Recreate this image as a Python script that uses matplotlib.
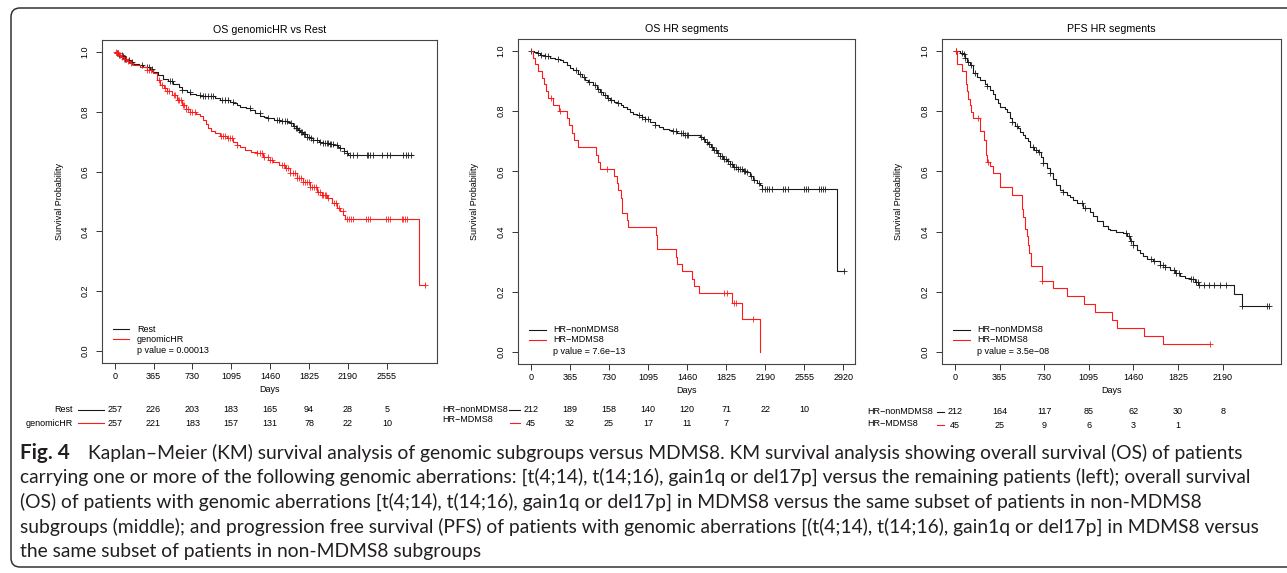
import numpy as np
import matplotlib
matplotlib.use("Agg")
import matplotlib.pyplot as plt
from matplotlib.lines import Line2D
from matplotlib.patches import FancyBboxPatch
from matplotlib.transforms import IdentityTransform, blended_transform_factory

plt.rcParams["font.family"] = ["Liberation Sans", "DejaVu Sans"]

W, H = 1287, 573

# ---- OS genomicHR vs Rest
rest_t = [0, 20, 45, 70, 95, 120, 150, 175, 230, 269, 330, 363, 410, 457, 500, 551, 600, 629, 680, 708,
          760, 802, 940, 989, 1080, 1115, 1150, 1177, 1230, 1271, 1320, 1365, 1400, 1428, 1500, 1553, 1620,
          1647, 1678, 1700, 1720, 1741, 1770, 1803, 1840, 1866, 1920, 1960, 2020, 2054, 2100, 2117, 2150,
          2179, 2195, 2800]
rest_s = [1.0, 0.995, 0.99, 0.985, 0.978, 0.972, 0.966, 0.961, 0.955, 0.95, 0.942, 0.933, 0.922, 0.911,
          0.902, 0.894, 0.884, 0.874, 0.867, 0.861, 0.856, 0.852, 0.846, 0.839, 0.834, 0.83, 0.823, 0.817,
          0.811, 0.806, 0.796, 0.786, 0.782, 0.778, 0.774, 0.77, 0.766, 0.763, 0.752, 0.745, 0.739, 0.733,
          0.725, 0.717, 0.711, 0.706, 0.7, 0.694, 0.691, 0.689, 0.683, 0.678, 0.67, 0.663, 0.654, 0.654]
rest_cens = [20, 30, 45, 66, 80, 95, 110, 130, 160, 253, 300, 320, 347, 519, 540, 629, 707, 801, 825, 850,
             875, 900, 924, 1005, 1035, 1067, 1114, 1270, 1364, 1440, 1521, 1545, 1570, 1595, 1615, 1660,
             1680, 1700, 1715, 1730, 1745, 1760, 1775, 1790, 1805, 1820, 1840, 1866, 1900, 1930, 1960, 1975,
             1990, 2005, 2020, 2035, 2050, 2090, 2120, 2150, 2180, 2209, 2240, 2272, 2366, 2381, 2397, 2428,
             2507, 2554, 2585, 2710, 2735, 2757, 2779]

ghr_t = [0, 20, 40, 60, 85, 113, 140, 175, 238, 300, 363, 395, 425, 460, 488, 535, 582, 629, 670, 707,
         760, 802, 832, 860, 880, 905, 942, 989, 1052, 1115, 1150, 1177, 1224, 1280, 1333, 1390, 1443, 1490,
         1540, 1599, 1650, 1709, 1770, 1834, 1900, 1950, 1990, 2040, 2084, 2120, 2147, 2162, 2860, 2914]
ghr_s = [1.0, 0.995, 0.99, 0.983, 0.977, 0.97, 0.963, 0.956, 0.95, 0.94, 0.928, 0.905, 0.889, 0.878,
         0.868, 0.855, 0.839, 0.822, 0.81, 0.8, 0.792, 0.785, 0.772, 0.76, 0.745, 0.735, 0.728, 0.72, 0.711,
         0.7, 0.69, 0.683, 0.672, 0.666, 0.661, 0.65, 0.639, 0.633, 0.622, 0.611, 0.594, 0.578, 0.564, 0.55,
         0.533, 0.522, 0.511, 0.494, 0.478, 0.467, 0.456, 0.442, 0.222, 0.222]
ghr_cens = [10, 25, 35, 50, 70, 90, 105, 125, 150, 300, 320, 340, 420, 440, 470, 490, 510, 555, 570, 590,
            605, 620, 640, 655, 670, 690, 710, 730, 750, 1000, 1020, 1040, 1060, 1080, 1100, 1150, 1340,
            1360, 1380, 1400, 1440, 1460, 1480, 1570, 1590, 1610, 1630, 1650, 1670, 1690, 1710, 1730, 1750,
            1770, 1790, 1805, 1820, 1835, 1850, 1870, 1890, 1910, 1930, 1950, 1960, 1970, 1985, 2000, 2060,
            2080, 2110, 2140, 2180, 2200, 2220, 2240, 2360, 2380, 2397, 2545, 2565, 2585, 2695, 2710, 2725,
            2742, 2914]

# ---- OS HR segments
osn_t = [0, 30, 60, 90, 130, 181, 230, 274, 300, 336, 370, 398, 440, 476, 510, 538, 580, 616, 650, 679,
         710, 741, 780, 803, 840, 865, 900, 928, 960, 990, 1037, 1068, 1114, 1161, 1200, 1239, 1290, 1317,
         1363, 1426, 1582, 1610, 1628, 1660, 1680, 1706, 1740, 1770, 1799, 1830, 1860, 1893, 1940, 1980,
         2018, 2050, 2080, 2110, 2142, 2158, 2864, 2927]
osn_s = [1.0, 0.996, 0.993, 0.987, 0.983, 0.978, 0.973, 0.969, 0.962, 0.952, 0.944, 0.936, 0.925, 0.914,
         0.904, 0.897, 0.886, 0.874, 0.864, 0.853, 0.845, 0.836, 0.83, 0.827, 0.82, 0.814, 0.806, 0.797,
         0.79, 0.786, 0.781, 0.775, 0.764, 0.753, 0.747, 0.742, 0.737, 0.734, 0.729, 0.72, 0.716, 0.709,
         0.698, 0.69, 0.68, 0.67, 0.66, 0.651, 0.642, 0.633, 0.624, 0.615, 0.607, 0.602, 0.598, 0.585,
         0.57, 0.562, 0.554, 0.54, 0.268, 0.268]
osn_cens = [5, 70, 100, 130, 160, 258, 420, 460, 500, 540, 600, 630, 660, 690, 720, 750, 816, 1010, 1040,
            1070, 1100, 1161, 1330, 1360, 1400, 1420, 1440, 1460, 1470, 1590, 1620, 1650, 1670, 1690, 1710,
            1730, 1750, 1770, 1790, 1805, 1820, 1840, 1860, 1880, 1900, 1920, 1940, 1960, 1975, 1990, 2005,
            2018, 2060, 2090, 2130, 2160, 2190, 2210, 2230, 2250, 2360, 2380, 2400, 2550, 2570, 2590, 2690,
            2710, 2730, 2750, 2927]

osm_t = [0, 25, 44, 68, 103, 125, 143, 165, 212, 260, 342, 361, 383, 405, 445, 612, 626, 647, 778, 803,
         819, 841, 856, 897, 912, 1170, 1183, 1354, 1370, 1410, 1504, 1525, 1575, 1877, 1977, 2142]
osm_s = [1.0, 0.978, 0.956, 0.933, 0.911, 0.889, 0.867, 0.845, 0.822, 0.8, 0.778, 0.753, 0.728, 0.703,
         0.681, 0.656, 0.632, 0.609, 0.585, 0.561, 0.537, 0.512, 0.463, 0.439, 0.415, 0.39, 0.341, 0.317,
         0.293, 0.268, 0.244, 0.22, 0.195, 0.163, 0.108, 0.0]
osm_cens = [187, 274, 710, 1806, 1830, 1899, 1917, 2080]

# ---- PFS HR segments
pfn_t = [0, 41, 68, 80, 95, 123, 150, 180, 205, 245, 259, 286, 310, 327, 350, 368, 410, 423, 450, 464,
         490, 518, 532, 560, 573, 595, 614, 650, 682, 700, 723, 750, 777, 805, 830, 859, 886, 920, 941, 968,
         1000, 1050, 1104, 1130, 1159, 1210, 1254, 1268, 1320, 1377, 1404, 1432, 1460, 1486, 1513, 1540,
         1568, 1623, 1677, 1720, 1759, 1800, 1841, 1880, 1923, 1960, 1991, 2285, 2346, 2564]
pfn_s = [1.0, 0.994, 0.989, 0.978, 0.962, 0.953, 0.928, 0.914, 0.903, 0.889, 0.884, 0.87, 0.856, 0.842,
         0.828, 0.815, 0.806, 0.798, 0.776, 0.765, 0.752, 0.743, 0.732, 0.72, 0.712, 0.7, 0.682, 0.672,
         0.664, 0.649, 0.627, 0.61, 0.594, 0.575, 0.556, 0.539, 0.533, 0.522, 0.515, 0.506, 0.494, 0.478,
         0.465, 0.452, 0.434, 0.418, 0.41, 0.406, 0.4, 0.395, 0.384, 0.368, 0.355, 0.34, 0.329, 0.318,
         0.309, 0.302, 0.29, 0.282, 0.274, 0.264, 0.252, 0.246, 0.241, 0.232, 0.224, 0.191, 0.152, 0.152]
pfn_cens = [5, 55, 70, 82, 110, 135, 160, 259, 470, 510, 640, 660, 690, 723, 777, 886, 1040, 1060, 1400,
            1420, 1440, 1460, 1600, 1630, 1680, 1700, 1720, 1790, 1810, 1830, 1930, 1950, 1970, 1990, 2000,
            2040, 2080, 2120, 2170, 2220, 2346, 2555, 2570]

pfm_t = [0, 14, 60, 90, 100, 110, 122, 135, 150, 205, 240, 250, 256, 262, 285, 314, 368, 464, 545, 556,
         573, 586, 600, 608, 620, 709, 805, 914, 1055, 1145, 1282, 1328, 1546, 1699, 2086]
pfm_s = [1.0, 0.956, 0.933, 0.889, 0.866, 0.842, 0.82, 0.798, 0.776, 0.733, 0.705, 0.68, 0.655, 0.632,
         0.618, 0.594, 0.547, 0.522, 0.475, 0.45, 0.407, 0.384, 0.355, 0.329, 0.285, 0.237, 0.212, 0.186,
         0.159, 0.133, 0.106, 0.078, 0.052, 0.026, 0.026]
pfm_cens = [8, 191, 273, 709, 2086]

os_ticks = [0, 365, 730, 1095, 1460, 1825, 2190, 2555]
seg_ticks = [0, 365, 730, 1095, 1460, 1825, 2190, 2555, 2920]
pfs_ticks = [0, 365, 730, 1095, 1460, 1825, 2190]

rest_risk = [257, 226, 203, 183, 165, 94, 28, 5]
ghr_risk = [257, 221, 183, 157, 131, 78, 22, 10]
osn_risk = [212, 189, 158, 140, 120, 71, 22, 10]
osm_risk = [45, 32, 25, 17, 11, 7]
pfn_risk = [212, 164, 117, 85, 62, 30, 8]
pfm_risk = [45, 25, 9, 6, 3, 1]

caption = [
    "Kaplan\u2013Meier (KM) survival analysis of genomic subgroups versus MDMS8. KM survival analysis showing overall survival (OS) of patients",
    "carrying one or more of the following genomic aberrations: [t(4;14), t(14;16), gain1q or del17p] versus the remaining patients (left); overall survival",
    "(OS) of patients with genomic aberrations [t(4;14), t(14;16), gain1q or del17p] in MDMS8 versus the same subset of patients in non-MDMS8",
    "subgroups (middle); and progression free survival (PFS) of patients with genomic aberrations [(t(4;14), t(14;16), gain1q or del17p] in MDMS8 versus",
    "the same subset of patients in non-MDMS8 subgroups",
]

FS = 6.5
RED = "#ff1a1a"
BLK = "#1a1a1a"


def fx(px):
    return px / W


def fy(py):
    return 1 - py / H


def km(ax, t, s, cens, color):
    t = np.asarray(t, float)
    s = np.asarray(s, float)
    ax.step(t, s, where="post", color=color, lw=0.8)
    c = np.asarray(cens, float)
    cy = s[np.searchsorted(t, c, side="right") - 1]
    ax.plot(c, cy, "+", color=color, ms=5, mew=0.7, alpha=0.85)


def style(ax, title, ticks, xlim):
    ax.set_xlim(xlim)
    ax.set_ylim(-0.04, 1.04)
    ax.set_xticks(ticks)
    ax.set_yticks([0, 0.2, 0.4, 0.6, 0.8, 1.0])
    ax.set_yticklabels(["0.0", "0.2", "0.4", "0.6", "0.8", "1.0"], rotation=90, va="center")
    ax.tick_params(direction="out", length=4, width=0.7, labelsize=FS, color="#333333")
    ax.tick_params(axis="x", pad=2.5)
    ax.tick_params(axis="y", pad=5)
    for sp in ax.spines.values():
        sp.set_linewidth(0.8)
        sp.set_color("#444444")
    ax.set_title(title, fontsize=7.7, pad=5)
    ax.set_xlabel("Days", fontsize=FS, va="center")
    ax.xaxis.set_label_coords(0.5, -0.083)
    ax.set_ylabel("Survival Probability", fontsize=FS, va="center")
    ax.yaxis.set_label_coords(-0.128, 0.5)


def legend(ax, labels, pval):
    for lab, col, y in zip(labels, [BLK, RED], [0.105, 0.074]):
        ax.plot([0.033, 0.082], [y, y], transform=ax.transAxes, color=col, lw=0.8)
        ax.text(0.104, y, lab, transform=ax.transAxes, fontsize=FS, va="center")
    ax.text(0.104, 0.040, pval, transform=ax.transAxes, fontsize=FS, va="center")


def risk_row(ax, ticks, counts, py):
    tr = blended_transform_factory(ax.transData, fig.transFigure)
    for x, n in zip(ticks, counts):
        ax.text(x, fy(py), str(n), transform=tr, ha="center", va="center", fontsize=FS)


def row_label(text, px, py, x0, x1, color, ha, line_py=None):
    fig.text(fx(px), fy(py), text, ha=ha, va="center", fontsize=FS)
    ly = fy(line_py if line_py is not None else py)
    fig.add_artist(Line2D([fx(x0), fx(x1)], [ly, ly], color=color, lw=0.8))


fig = plt.figure(figsize=(W / 100, H / 100), dpi=100)

ax1 = fig.add_axes([fx(102), fy(363), 335 / W, 323 / H])
km(ax1, rest_t, rest_s, rest_cens, BLK)
km(ax1, ghr_t, ghr_s, ghr_cens, RED)
style(ax1, "OS genomicHR vs Rest", os_ticks, (-119, 3026))
legend(ax1, ["Rest", "genomicHR"], "p value = 0.00013")
risk_row(ax1, os_ticks, rest_risk, 410)
risk_row(ax1, os_ticks, ghr_risk, 423)
row_label("Rest", 73, 410, 78, 104, BLK, "right")
row_label("genomicHR", 73, 423, 78, 104, RED, "right")

ax2 = fig.add_axes([fx(518), fy(364), 337 / W, 325 / H])
km(ax2, osn_t, osn_s, osn_cens, BLK)
km(ax2, osm_t, osm_s, osm_cens, RED)
style(ax2, "OS HR segments", seg_ticks, (-119, 3030))
legend(ax2, ["HR\u2212nonMDMS8", "HR\u2212MDMS8"], "p value = 7.6e\u221213")
risk_row(ax2, seg_ticks, osn_risk, 410)
risk_row(ax2, seg_ticks, osm_risk, 423)
row_label("HR\u2212nonMDMS8", 442, 410, 509, 520, BLK, "left")
row_label("HR\u2212MDMS8", 442, 420, 510, 520, RED, "left", line_py=423)

ax3 = fig.add_axes([fx(942), fy(364), 339 / W, 325 / H])
km(ax3, pfn_t, pfn_s, pfn_cens, BLK)
km(ax3, pfm_t, pfm_s, pfm_cens, RED)
style(ax3, "PFS HR segments", pfs_ticks, (-106, 2667))
legend(ax3, ["HR\u2212nonMDMS8", "HR\u2212MDMS8"], "p value = 3.5e\u221208")
risk_row(ax3, pfs_ticks, pfn_risk, 412)
risk_row(ax3, pfs_ticks, pfm_risk, 425)
row_label("HR\u2212nonMDMS8", 867, 412, 937, 944, BLK, "left")
row_label("HR\u2212MDMS8", 867, 423, 937, 944, RED, "left", line_py=425)

# caption block
cap_font = ["Lato", "DejaVu Sans"]
cap_color = "#231f20"
cap_x = 20
cap_y = [453, 477, 502, 527, 551]
fig_label = fig.text(fx(cap_x), fy(cap_y[0]), "Fig. 4", fontsize=13, fontweight="bold",
                     family=cap_font, color=cap_color, va="center")
first = fig.text(fx(cap_x + 68), fy(cap_y[0]), caption[0], fontsize=13, family=cap_font,
                 color=cap_color, va="center")
renderer = fig.canvas.get_renderer()
cap_fs = 13 * 1152 / first.get_window_extent(renderer).width
first.set_fontsize(cap_fs)
fig_label.set_fontsize(cap_fs * 1.08)
for line, py in zip(caption[1:], cap_y[1:]):
    fig.text(fx(cap_x), fy(py), line, fontsize=cap_fs, family=cap_font, color=cap_color, va="center")

# rounded frame around the figure
frame = FancyBboxPatch((11, H - 567), 1320, 559, boxstyle="round,pad=0,rounding_size=9",
                       transform=IdentityTransform(), fill=False, ec="#333333", lw=1.1)
fig.add_artist(frame)

fig.savefig("out.png", dpi=100)
